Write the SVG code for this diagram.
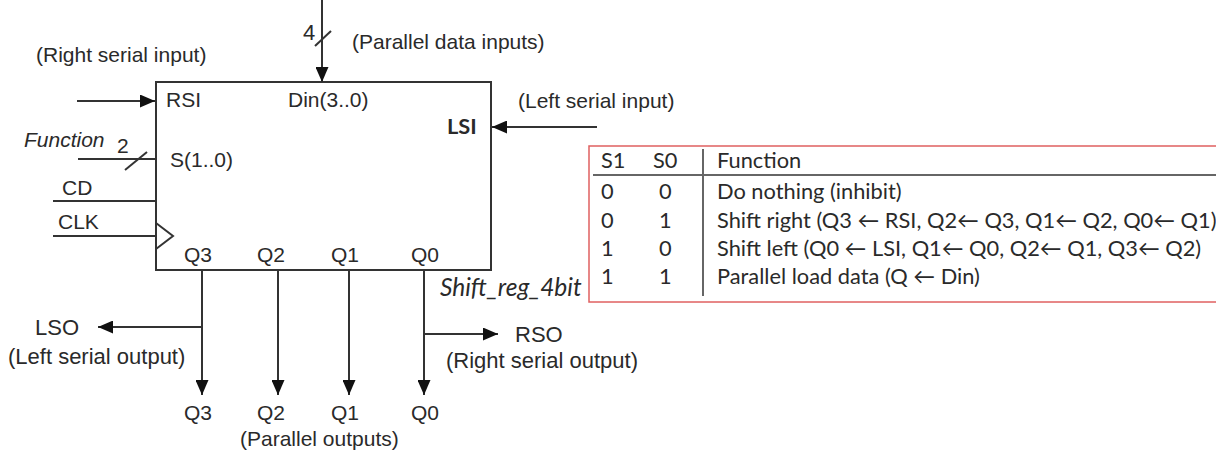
<svg xmlns="http://www.w3.org/2000/svg" width="1216" height="455" viewBox="0 0 1216 455">
<defs>
<style>
.t{font-family:"Liberation Sans",Arial,sans-serif;font-size:21px;fill:#2a2a2a}
.tl{font-family:"Liberation Sans",Arial,sans-serif;font-size:22px;fill:#2a2a2a}
.ti{font-family:"Liberation Sans",Arial,sans-serif;font-size:21px;font-style:italic;fill:#2a2a2a}
.c{font-family:Lato,"Noto Sans",sans-serif;font-size:21.8px;fill:#2a2a2a}
.ln{stroke:#333;stroke-width:2;fill:none}
.tb{stroke:#666;stroke-width:2;fill:none}
</style>
<marker id="ah" viewBox="0 0 10 10" refX="10" refY="5" markerWidth="15" markerHeight="13" markerUnits="userSpaceOnUse" orient="auto" preserveAspectRatio="none">
<path d="M0,0 L10,5 L0,10 z" fill="#111"/>
</marker>
</defs>
<rect width="1216" height="455" fill="#fff"/>

<g id="register">
<rect x="156" y="82" width="335" height="188" class="ln"/>
<polyline points="156,223 173,236 156,249" class="ln"/>
<text class="t" x="166" y="107">RSI</text>
<text class="t" x="288" y="107">Din(3..0)</text>
<text class="c" x="447" y="134" font-weight="bold">LSI</text>
<text class="t" x="170" y="167">S(1..0)</text>
<text class="t" x="184" y="262">Q3</text>
<text class="t" x="257" y="262">Q2</text>
<text class="t" x="331" y="262">Q1</text>
<text class="t" x="411" y="262">Q0</text>
<text class="c" x="440" y="296" font-style="italic" style="font-size:24.5px">Shift_reg_4bit</text>
</g>

<g id="labels">
<text class="t" x="36" y="62">(Right serial input)</text>
<text class="t" x="303" y="40" style="font-size:22px">4</text>
<text class="t" x="352" y="49">(Parallel data inputs)</text>
<text class="t" x="518" y="108">(Left serial input)</text>
<text class="ti" x="24" y="147">Function</text>
<text class="t" x="117" y="153">2</text>
<text class="t" x="62" y="195">CD</text>
<text class="t" x="58" y="229">CLK</text>
<text class="tl" x="35" y="335">LSO</text>
<text class="tl" x="8" y="364">(Left serial output)</text>
<text class="tl" x="515" y="342">RSO</text>
<text class="tl" x="446" y="368">(Right serial output)</text>
<text class="t" x="184" y="420">Q3</text>
<text class="t" x="257" y="420">Q2</text>
<text class="t" x="331" y="420">Q1</text>
<text class="t" x="411" y="420">Q0</text>
<text class="t" x="240" y="446">(Parallel outputs)</text>
</g>

<g id="connectors">
<line x1="322" y1="0" x2="322" y2="82" class="ln" marker-end="url(#ah)"/>
<line x1="315" y1="46" x2="331" y2="31" class="ln"/>
<line x1="77" y1="101" x2="155" y2="101" class="ln" marker-end="url(#ah)"/>
<line x1="597" y1="127" x2="492" y2="127" class="ln" marker-end="url(#ah)"/>
<line x1="78" y1="159" x2="156" y2="159" class="ln"/>
<line x1="125" y1="170" x2="147" y2="152" class="ln"/>
<line x1="53" y1="201" x2="156" y2="201" class="ln"/>
<line x1="53" y1="236" x2="156" y2="236" class="ln"/>
<line x1="202" y1="270" x2="202" y2="395" class="ln" marker-end="url(#ah)"/>
<line x1="278" y1="270" x2="278" y2="395" class="ln" marker-end="url(#ah)"/>
<line x1="349" y1="270" x2="349" y2="395" class="ln" marker-end="url(#ah)"/>
<line x1="424" y1="270" x2="424" y2="395" class="ln" marker-end="url(#ah)"/>
<line x1="202" y1="327" x2="98" y2="327" class="ln" marker-end="url(#ah)"/>
<line x1="424" y1="334" x2="498" y2="334" class="ln" marker-end="url(#ah)"/>
</g>

<g id="function-table">
<rect x="589" y="146" width="660" height="156" fill="none" stroke="#e06060" stroke-width="1.5"/>
<line x1="593" y1="175" x2="1216" y2="175" class="tb"/>
<line x1="703" y1="149" x2="703" y2="296" class="tb"/>
<text class="c" x="601" y="168">S1</text>
<text class="c" x="653" y="168">S0</text>
<text class="c" x="717" y="168">Function</text>
<text class="c" x="601" y="199">0</text>
<text class="c" x="659" y="199">0</text>
<text class="c" x="717" y="199">Do nothing (inhibit)</text>
<text class="c" x="601" y="228">0</text>
<text class="c" x="659" y="228">1</text>
<text class="c" x="717" y="228">Shift right (Q3 ← RSI, Q2← Q3, Q1← Q2, Q0← Q1)</text>
<text class="c" x="601" y="256">1</text>
<text class="c" x="659" y="256">0</text>
<text class="c" x="717" y="256">Shift left (Q0 ← LSI, Q1← Q0, Q2← Q1, Q3← Q2)</text>
<text class="c" x="601" y="284">1</text>
<text class="c" x="659" y="284">1</text>
<text class="c" x="717" y="284">Parallel load data  (Q ← Din)</text>
</g>
</svg>
